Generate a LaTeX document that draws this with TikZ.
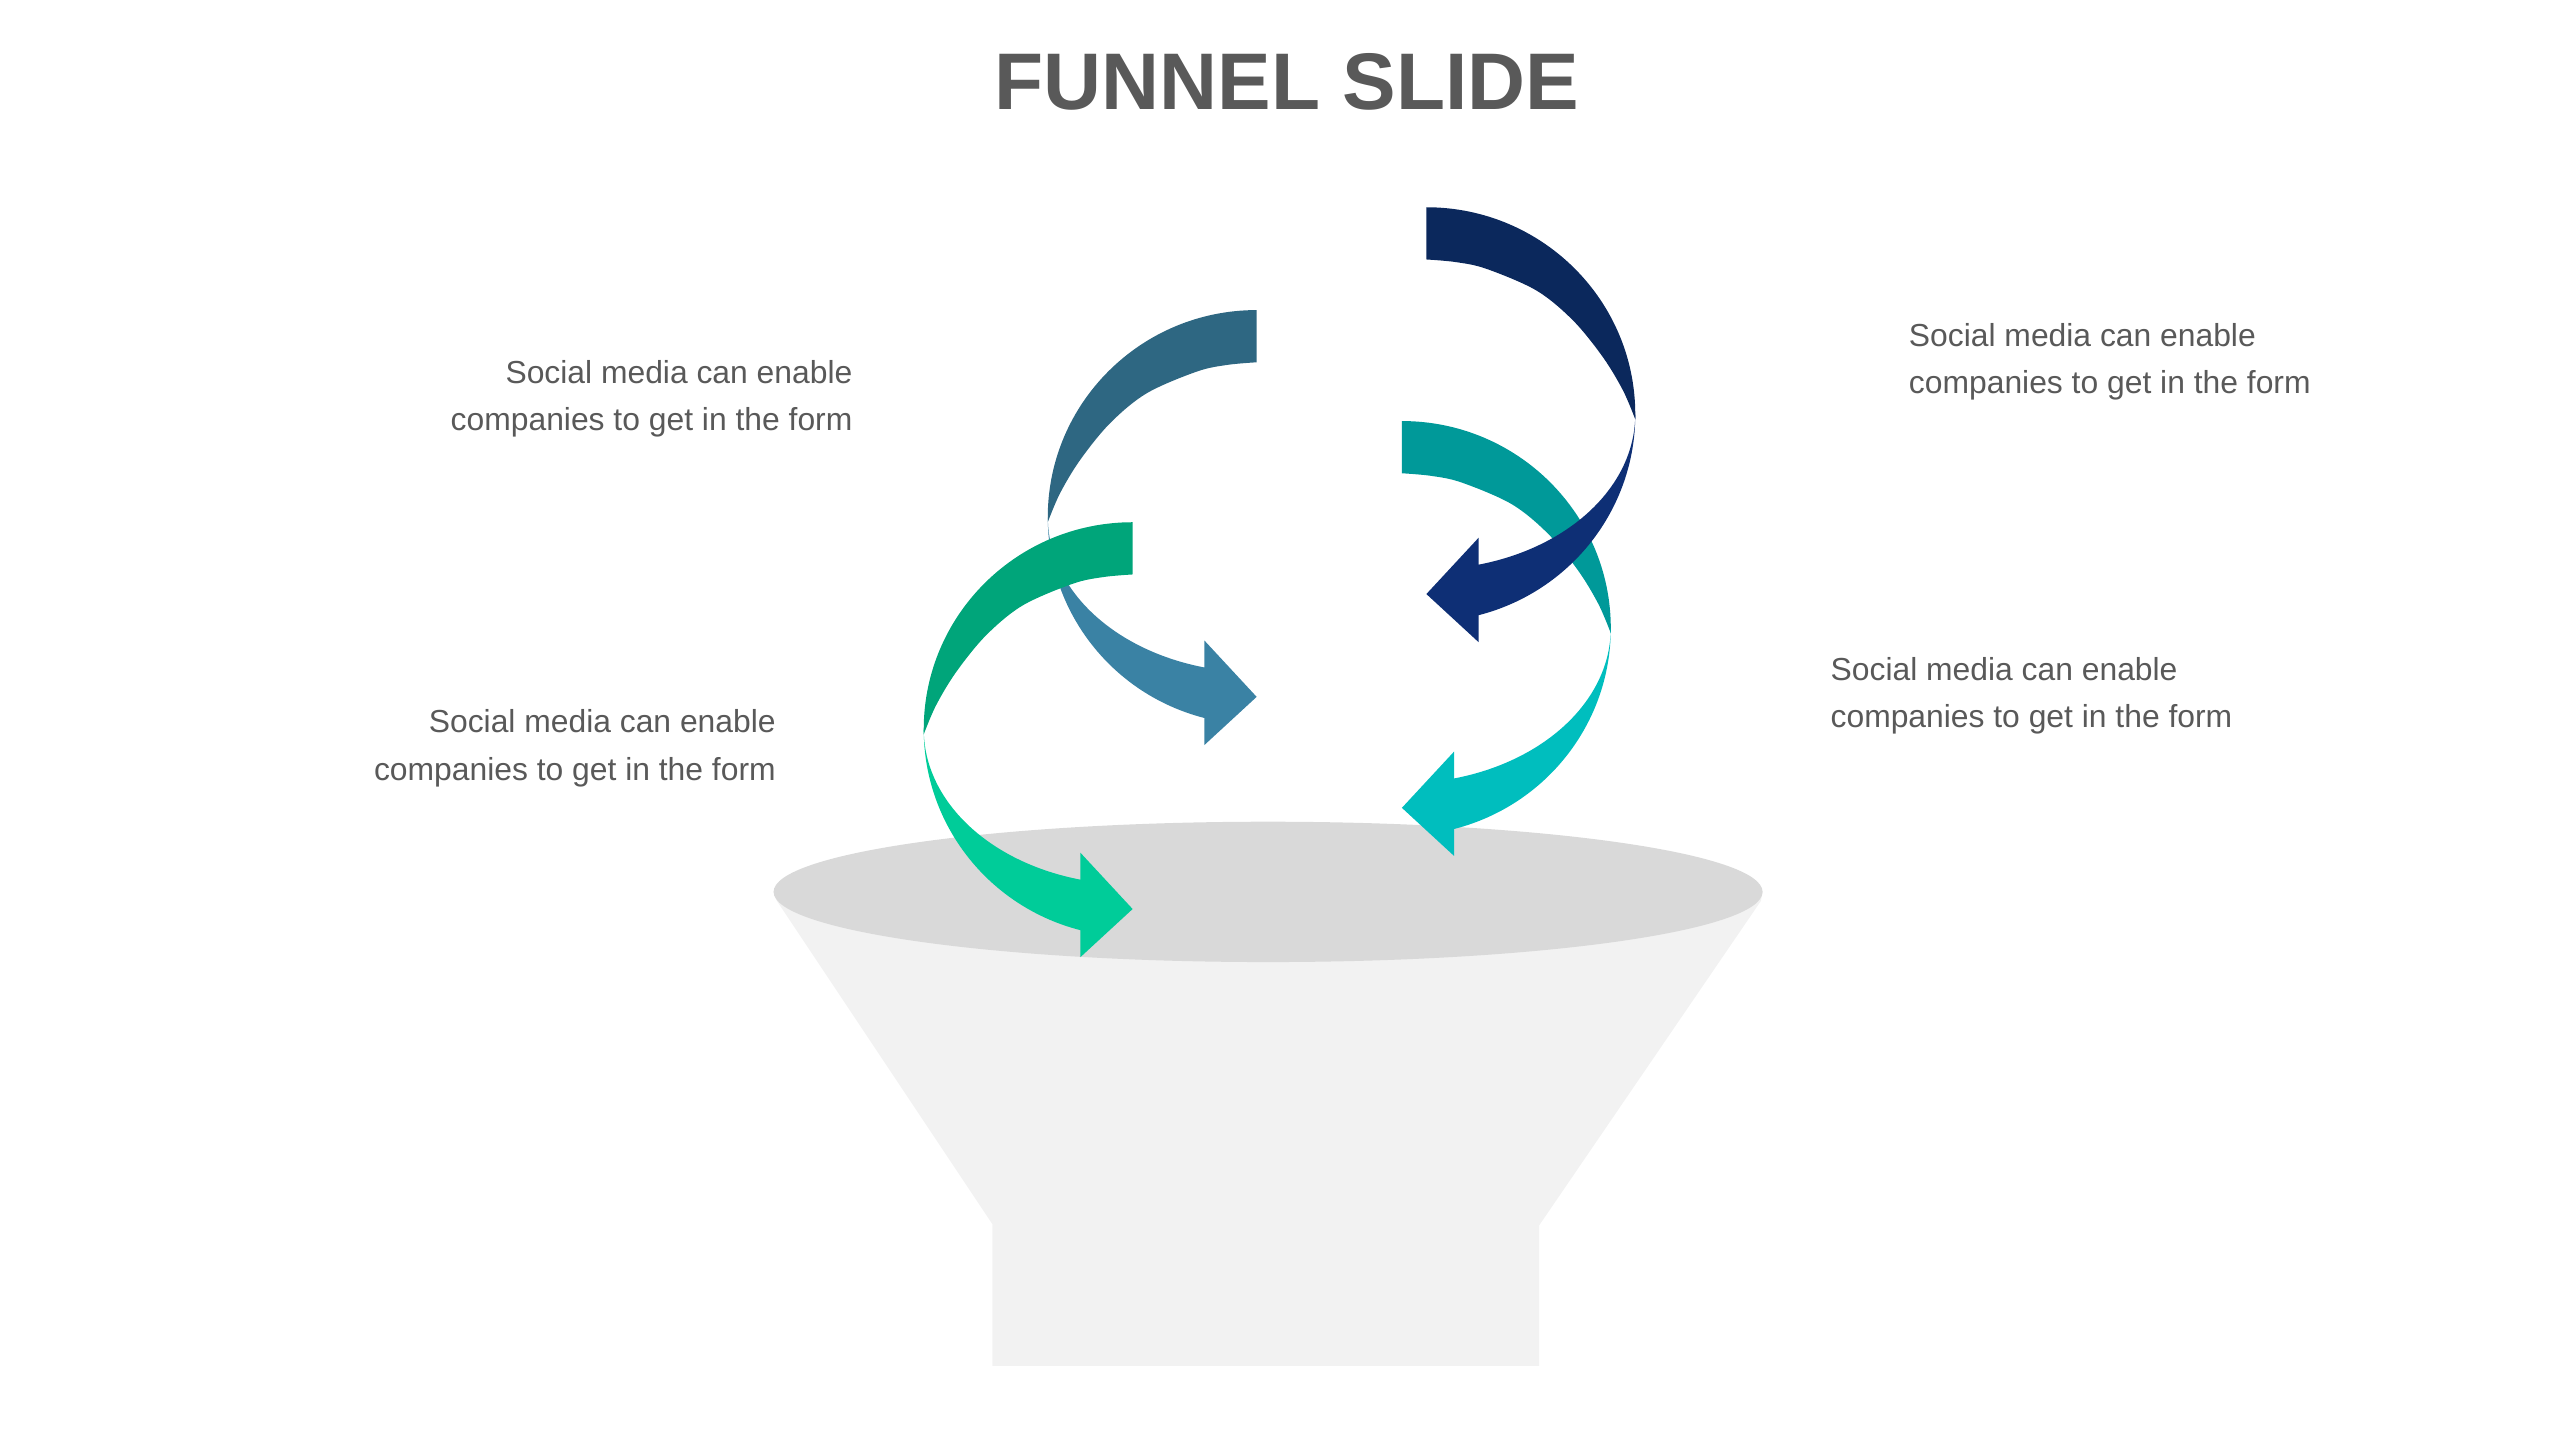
\documentclass[tikz,border=0pt]{standalone}
\usepackage{fontspec}
\setmainfont{Liberation Sans}
\definecolor{txtgray}{HTML}{595959}
\definecolor{rimgray}{HTML}{D9D9D9}
\definecolor{bodygray}{HTML}{F2F2F2}
\definecolor{steelTop}{HTML}{2E6782}
\definecolor{steelBot}{HTML}{3A82A4}
\definecolor{greenTop}{HTML}{00A57A}
\definecolor{greenBot}{HTML}{00CC99}
\definecolor{navyTop}{HTML}{0B285C}
\definecolor{navyBot}{HTML}{0E2F75}
\definecolor{tealTop}{HTML}{009999}
\definecolor{tealBot}{HTML}{00BEBE}
% #1 cx, #2 cy, #3 direction (1 curls left, -1 curls right), #4 top colour, #5 bottom colour
\newcommand\ribbonarrow[5]{%
  \begin{scope}[shift={(#1,#2)}, xscale=#3]
    \fill[#4] (0,-127) arc[start angle=-90, end angle=-180, x radius=128, y radius=127]
      -- plot[smooth, tension=0.55] coordinates {(-128,3) (-120.5,-14.7) (-108.2,-35.1)
         (-89.9,-57.6) (-67.4,-76) (-36.7,-89.3) (-18,-93.4) (0,-95)} -- cycle;
    \fill[#5] (-128,0) arc[start angle=180, end angle=104.5, x radius=128, y radius=127]
      -- (-32,139.5) -- (0,110) -- (-32,75.5) -- (-32,92)
      arc[start angle=104.5, end angle=180, x radius=128, y radius=95] -- cycle;
  \end{scope}}
\tikzset{
  desc/.style={font=\fontsize{5.55pt}{8.25pt}\selectfont, text=txtgray, inner sep=0pt},
  ttl/.style={font=\fontsize{14pt}{16pt}\selectfont\bfseries, text=txtgray, inner sep=0pt}
}
\begin{document}
\begin{tikzpicture}[x=0.1mm, y=-0.1mm]
  \useasboundingbox (0,0) rectangle (1568,882.3);
  % title
  \node[ttl] (title) at (788.5,50) {FUNNEL SLIDE};
  % funnel
  \fill[bodygray] (474,546) -- (476,552) -- (608,750) -- (608,837) -- (943,837)
     -- (943,751) -- (1079,552) -- (1080,546) -- cycle;
  \fill[rimgray] (777,546.5) ellipse[x radius=303, y radius=43];
  % arrows
  \ribbonarrow{770}{317}{1}{steelTop}{steelBot}
  \ribbonarrow{694}{447}{1}{greenTop}{greenBot}
  \ribbonarrow{859}{385}{-1}{tealTop}{tealBot}
  \ribbonarrow{874}{254}{-1}{navyTop}{navyBot}
  % texts
  \node[desc, anchor=east, align=right] (tl) at (523,244.5) {Social media can enable\\companies to get in the form};
  \node[desc, anchor=east, align=right] (bl) at (476,458.5) {Social media can enable\\companies to get in the form};
  \node[desc, anchor=west, align=left] (tr) at (1169,221.5) {Social media can enable\\companies to get in the form};
  \node[desc, anchor=west, align=left] (br) at (1121,426.5) {Social media can enable\\companies to get in the form};
\end{tikzpicture}
\end{document}
